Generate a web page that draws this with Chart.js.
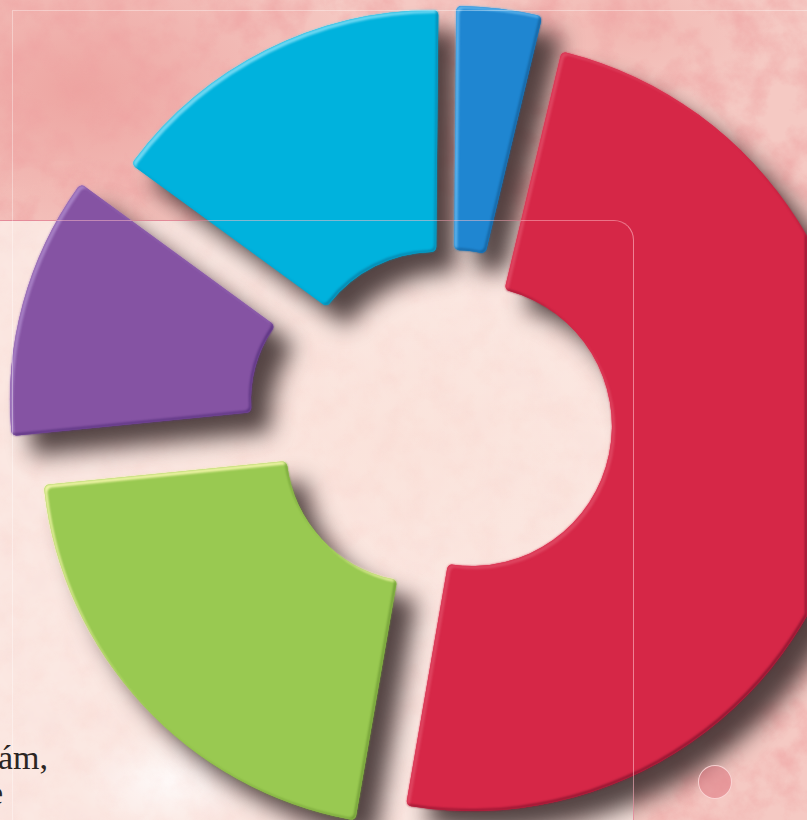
<!DOCTYPE html>
<html>
<head>
<meta charset="utf-8">
<script src="https://cdn.jsdelivr.net/npm/chart.js@4"></script>
<style>
  html, body { margin: 0; padding: 0; width: 807px; height: 820px; overflow: hidden; }
  body {
    position: relative;
    background:
      radial-gradient(ellipse 300px 190px at 80px 90px, rgba(226,110,110,.4), transparent 100%),
      radial-gradient(ellipse 160px 80px at 620px 30px, rgba(235,150,145,.35), transparent 100%),
      radial-gradient(ellipse 120px 200px at 780px 500px, rgba(240,140,135,.3), transparent 100%),
      #f5c9c3;
  }
  .noise { position: absolute; left: 0; top: 0; }
  #panel {
    position: absolute; left: -2px; top: 220px; width: 635px; height: 620px;
    background:
      radial-gradient(ellipse 90px 50px at 170px 560px, rgba(255,255,255,.8), transparent 100%),
      radial-gradient(ellipse 300px 200px at 400px 220px, rgba(250,222,212,.5), transparent 100%),
      rgba(252,236,230,.86);
    border-top: 1px solid #c9566a; border-right: 1px solid #c9566a;
    border-top-right-radius: 20px;
  }
  #chart-wrap { position: absolute; left: 0; top: 0; width: 807px; height: 820px; }
  #frame {
    position: absolute; left: 12px; top: 10px; width: 820px; height: 830px;
    border-left: 1px solid rgba(255,255,255,.35); border-top: 1px solid rgba(255,255,255,.35);
  }
  #panel-line {
    position: absolute; left: -2px; top: 220px; width: 635px; height: 620px;
    border-top: 1px solid rgba(255,190,200,.5); border-right: 1px solid rgba(255,190,200,.6);
    border-top-right-radius: 20px;
  }
  #dot {
    position: absolute; left: 698px; top: 765px; width: 32px; height: 32px; border-radius: 50%;
    background: rgba(222,120,130,.55); border: 1px solid rgba(255,225,225,.8);
  }
  .txt { position: absolute; font-family: "Liberation Serif", serif; font-size: 34px; color: #2b2523; line-height: 1; }
</style>
</head>
<body>
<svg class="noise" width="807" height="820">
  <filter id="mottle">
    <feTurbulence type="fractalNoise" baseFrequency="0.03" numOctaves="5" seed="7"/>
    <feColorMatrix values="0 0 0 0 0.86  0 0 0 0 0.36  0 0 0 0 0.36  2.4 0 0 0 -0.95"/>
  </filter>
  <rect width="807" height="820" filter="url(#mottle)" opacity="0.6"/>
</svg>
<div id="panel"></div>
<svg class="noise" width="807" height="820">
  <filter id="mottle2">
    <feTurbulence type="fractalNoise" baseFrequency="0.04" numOctaves="4" seed="21"/>
    <feColorMatrix values="0 0 0 0 0.93  0 0 0 0 0.55  0 0 0 0 0.5  2.2 0 0 0 -0.9"/>
  </filter>
  <rect y="221" width="633" height="600" filter="url(#mottle2)" opacity="0.14"/>
</svg>
<div class="txt" style="left:-2px;top:741px">ám,</div>
<div class="txt" style="left:-12px;top:776px">e</div>
<div id="chart-wrap"><canvas id="chart" width="807" height="820"></canvas></div>
<div id="frame"></div>
<div id="panel-line"></div>
<div id="dot"></div>

<script>
// data
const labels = ['A', 'B', 'C', 'D', 'E'];
const shares = [3.6, 49, 20.7, 11.6, 15.1];

// styles, clockwise from the top
const fillColors = ['#1f86d1', '#d62747', '#99c951', '#8553a3', '#00b2dd'];
const lightEdges = ['#5fb4ec', '#de4560', '#f2f5a8', '#a67fc4', '#6fd8f2'];
const darkEdges = ['#15619c', '#8e1530', '#6f9a35', '#5a3380', '#0785ac'];

// every slice is pulled out by hand, the source is not a regular exploded pie
const sliceCenterX = [453, 472, 420, 377, 435];
const sliceCenterY = [389, 426, 448, 400, 386];
const outerRadii = [383, 385, 378, 367, 376];
const innerRadii = [139, 140, 134, 126, 134];

const explodePlugin = {
  id: 'explode',
  afterDatasetsUpdate(chart) {
    chart.getDatasetMeta(0).data.forEach((arc, i) => {
      arc.x = sliceCenterX[i];
      arc.y = sliceCenterY[i];
      arc.outerRadius = outerRadii[i];
      arc.innerRadius = innerRadii[i];
    });
  },
};

// drop shadow goes under all the slices
const shadowPlugin = {
  id: 'dropShadow',
  beforeDatasetsDraw(chart) {
    const ctx = chart.ctx;
    ctx.save();
    ctx.shadowColor = 'rgba(60,45,45,0.88)';
    ctx.shadowBlur = 22;
    ctx.shadowOffsetX = 20;
    ctx.shadowOffsetY = 20;
    chart.getDatasetMeta(0).data.forEach((arc) => arc.draw(ctx));
    ctx.restore();
  },
};

// rim = slice minus the same slice moved a little, then tinted
function drawRim(chart, arc, dx, dy, color) {
  const off = document.createElement('canvas');
  off.width = chart.width;
  off.height = chart.height;
  const o = off.getContext('2d');
  arc.draw(o);
  o.globalCompositeOperation = 'destination-out';
  o.drawImage(off, dx, dy);
  o.globalCompositeOperation = 'source-in';
  o.fillStyle = color;
  o.fillRect(0, 0, off.width, off.height);
  chart.ctx.save();
  chart.ctx.filter = 'blur(0.8px)';
  chart.ctx.drawImage(off, 0, 0);
  chart.ctx.restore();
}

const bevelPlugin = {
  id: 'bevel',
  afterDatasetsDraw(chart) {
    chart.getDatasetMeta(0).data.forEach((arc, i) => {
      drawRim(chart, arc, 3, 3, lightEdges[i]);
      drawRim(chart, arc, -2, -2, darkEdges[i]);
    });
  },
};

new Chart(document.getElementById('chart'), {
  type: 'doughnut',
  data: {
    labels,
    datasets: [
      {
        data: shares,
        backgroundColor: fillColors,
        borderWidth: 0,
        borderRadius: 5,
        clip: false,
      },
    ],
  },
  options: {
    responsive: false,
    animation: false,
    rotation: 0.5,
    cutout: '36%',
    layout: { padding: 0 },
    events: [],
    plugins: {
      legend: { display: false },
      tooltip: { enabled: false },
    },
  },
  plugins: [explodePlugin, shadowPlugin, bevelPlugin],
});
</script>
</body>
</html>
